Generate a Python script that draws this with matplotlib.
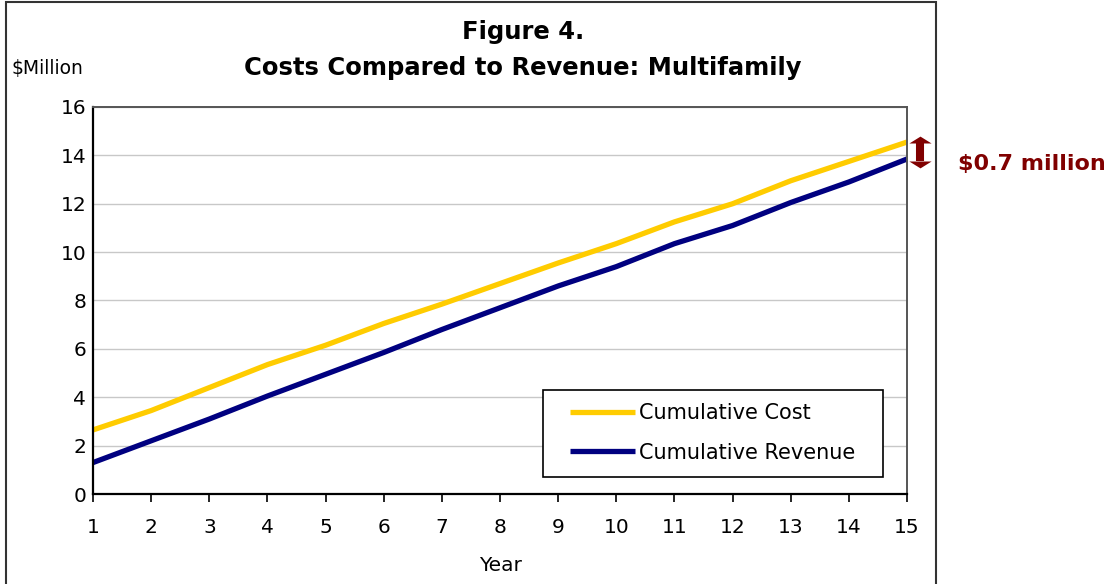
import matplotlib.pyplot as plt
from matplotlib.patches import Rectangle

years = list(range(1, 16))
cumulative_cost = [2.65, 3.45, 4.4, 5.35, 6.15, 7.05, 7.85, 8.7, 9.55,
                   10.35, 11.25, 12.0, 12.95, 13.75, 14.55]
cumulative_revenue = [1.3, 2.2, 3.1, 4.05, 4.95, 5.85, 6.8, 7.7, 8.6,
                      9.4, 10.35, 11.1, 12.05, 12.9, 13.85]
y_ticks = [0, 2, 4, 6, 8, 10, 12, 14, 16]
gap_label = "$0.7 million"


def main():
    plt.rcParams['font.family'] = ['DejaVu Sans']
    fig = plt.figure(figsize=(11.17, 5.84), dpi=100)
    ax = fig.add_axes([0.0833, 0.1541, 0.7287, 0.6627])

    ax.plot(years, cumulative_cost, color='#FFCC00', lw=3.8,
            label='Cumulative Cost', solid_capstyle='butt')
    ax.plot(years, cumulative_revenue, color='#000080', lw=3.8,
            label='Cumulative Revenue', solid_capstyle='butt')

    ax.set_xlim(1, 15)
    ax.set_ylim(0, 16)
    ax.set_xticks(years)
    ax.set_yticks(y_ticks)
    ax.tick_params(axis='x', labelsize=14.5, length=6, width=1.2, pad=11,
                   direction='out')
    ax.tick_params(axis='y', labelsize=14.5, length=0, pad=5)
    ax.grid(axis='y', color='#c8c8c8', lw=1)
    ax.set_axisbelow(True)
    for s in ['left', 'bottom']:
        ax.spines[s].set_linewidth(1.6)
        ax.spines[s].set_color('black')
    for s in ['top', 'right']:
        ax.spines[s].set_linewidth(1.4)
        ax.spines[s].set_color('#555555')
    ax.set_xlabel('Year', fontsize=14.5, labelpad=14)

    # legend box drawn by hand so the padding matches
    box = Rectangle((0.553, 0.044), 0.4175, 0.2247, transform=ax.transAxes,
                    facecolor='white', edgecolor='black', lw=1.2, zorder=4)
    ax.add_patch(box)
    leg = ax.legend(loc='center left', bbox_to_anchor=(0.586, 0.158),
                    fontsize=15, frameon=False, handlelength=3.1,
                    handletextpad=0.2, borderpad=0, labelspacing=0.95,
                    borderaxespad=0)
    leg.set_zorder(5)

    fig.text(0.468, 0.945, 'Figure 4.', ha='center', va='center',
             fontsize=17.5, fontweight='bold')
    fig.text(0.468, 0.883, 'Costs Compared to Revenue: Multifamily',
             ha='center', va='center', fontsize=17.5, fontweight='bold')
    fig.text(0.010, 0.883, '$Million', ha='left', va='center', fontsize=13.5)

    # double arrow showing the gap at year 15
    xa = 15.22
    top = cumulative_cost[-1] - 0.05
    bot = cumulative_revenue[-1] - 0.08
    head_up = [(-1, 0), (1, 0), (0, 0.62), (-1, 0)]
    head_down = [(-1, 0), (1, 0), (0, -0.62), (-1, 0)]
    ax.plot([xa, xa], [bot, top], color='#800000', lw=5.8, clip_on=False,
            solid_capstyle='butt')
    ax.plot([xa], [top], marker=head_up, ms=16, color='#800000',
            clip_on=False, markeredgewidth=0)
    ax.plot([xa], [bot], marker=head_down, ms=16, color='#800000',
            clip_on=False, markeredgewidth=0)
    fig.text(0.858, 0.72, gap_label, ha='left', va='center', fontsize=16,
             fontweight='bold', color='#800000')

    frame = Rectangle((0.0054, -0.05), 0.8326, 1.0464, transform=fig.transFigure,
                      fill=False, edgecolor='#333333', lw=1.5, clip_on=False)
    fig.patches.append(frame)

    fig.savefig('out.png', dpi=100)


if __name__ == "__main__":
    main()
